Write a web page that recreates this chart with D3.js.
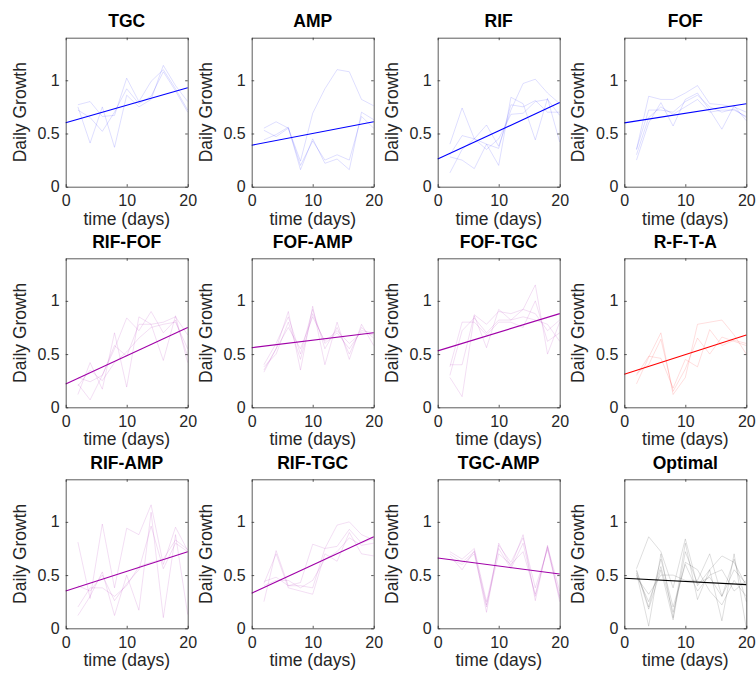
<!DOCTYPE html>
<html>
<head>
<meta charset="utf-8">
<script src="https://cdn.jsdelivr.net/npm/d3@7"></script>
<style>
  html, body { margin: 0; padding: 0; background: #fff; }
  svg { display: block; font-family: "Liberation Sans", Arial, Helvetica, sans-serif; }
</style>
</head>
<body>
<svg id="chart" width="756" height="673"></svg>
<script>
// Sampling days of the replicate growth measurements
const days = [2, 4, 6, 8, 10, 12, 14, 16, 18, 20];

// Treatment names, in panel order (row by row)
const treatments = ["TGC", "AMP", "RIF", "FOF",
                    "RIF-FOF", "FOF-AMP", "FOF-TGC", "R-F-T-A",
                    "RIF-AMP", "RIF-TGC", "TGC-AMP", "Optimal"];

// Line colour for each treatment
const treatmentColors = ["#0000ff", "#0000ff", "#0000ff", "#0000ff",
                         "#a000a8", "#a000a8", "#a000a8", "#ff0000",
                         "#a000a8", "#a000a8", "#a000a8", "#000000"];

// Linear fit of daily growth vs time: value at day 0 and at day 20
const fitStart = [0.60, 0.39, 0.26, 0.60, 0.22, 0.56, 0.53, 0.31, 0.35, 0.33, 0.66, 0.47];
const fitEnd   = [0.93, 0.61, 0.79, 0.78, 0.75, 0.70, 0.88, 0.68, 0.72, 0.86, 0.51, 0.41];

// Replicate daily growth series (one row per replicate, one value per sampling day)
const tgcReps = [
  [0.77, 0.80, 0.66, 0.67, 1.02, 0.80, 0.99, 1.10, 0.92, 0.72],
  [0.75, 0.41, 0.75, 0.37, 0.86, 0.75, 0.82, 1.14, 0.95, 0.80],
  [0.72, 0.65, 0.52, 0.70, 0.92, 0.78, 0.85, 1.08, 0.90, 0.70]
];
const ampReps = [
  [0.55, 0.61, 0.55, 0.24, 0.69, 0.92, 1.10, 1.08, 0.82, 0.76],
  [0.44, 0.49, 0.56, 0.16, 0.45, 0.22, 0.26, 0.16, 0.70, 0.63],
  [0.53, 0.47, 0.55, 0.20, 0.43, 0.25, 0.30, 0.25, 0.66, 0.55]
];
const rifReps = [
  [0.40, 0.74, 0.45, 0.40, 0.20, 0.84, 0.78, 0.44, 0.83, 0.42],
  [0.13, 0.35, 0.45, 0.58, 0.38, 0.72, 0.97, 1.01, 0.88, 0.78],
  [0.30, 0.48, 0.45, 0.35, 0.45, 0.68, 0.69, 0.80, 0.82, 0.67],
  [0.28, 0.25, 0.17, 0.40, 0.36, 0.77, 0.75, 0.81, 0.70, 0.70]
];
const fofReps = [
  [0.25, 0.60, 0.79, 0.57, 0.82, 0.88, 0.72, 0.54, 0.76, 0.62],
  [0.35, 0.85, 0.82, 0.82, 0.88, 0.95, 0.78, 0.77, 0.75, 0.70],
  [0.35, 0.72, 0.72, 0.70, 0.80, 0.86, 0.75, 0.70, 0.73, 0.65],
  [0.30, 0.65, 0.75, 0.68, 0.75, 0.82, 0.70, 0.72, 0.72, 0.66]
];
const rifFofReps = [
  [0.12, 0.42, 0.17, 0.70, 0.19, 0.85, 0.78, 0.44, 0.86, 0.42],
  [0.22, 0.07, 0.30, 0.55, 0.84, 0.72, 0.90, 0.70, 0.82, 0.48],
  [0.28, 0.24, 0.30, 0.58, 0.48, 0.78, 0.78, 0.80, 0.85, 0.68],
  [0.20, 0.35, 0.25, 0.42, 0.52, 0.65, 0.75, 0.78, 0.80, 0.55]
];
const fofAmpReps = [
  [0.33, 0.55, 0.90, 0.35, 0.95, 0.40, 0.80, 0.45, 0.78, 0.58],
  [0.40, 0.60, 0.85, 0.50, 0.92, 0.55, 0.75, 0.50, 0.75, 0.65],
  [0.38, 0.50, 0.80, 0.45, 0.88, 0.60, 0.70, 0.55, 0.72, 0.70],
  [0.35, 0.55, 0.75, 0.55, 0.85, 0.62, 0.72, 0.60, 0.70, 0.68]
];
const fofTgcReps = [
  [0.28, 0.10, 0.86, 0.56, 0.92, 0.82, 0.92, 1.15, 0.50, 0.80],
  [0.38, 0.80, 0.80, 0.68, 0.80, 0.80, 0.75, 1.00, 0.62, 0.70],
  [0.40, 0.40, 0.87, 0.78, 0.90, 0.88, 0.92, 0.88, 0.72, 0.82],
  [0.30, 0.72, 0.84, 0.70, 0.82, 0.82, 0.85, 0.82, 0.78, 0.62]
];
const rftaReps = [
  [0.22, 0.47, 0.70, 0.12, 0.28, 0.78, 0.80, 0.82, 0.68, 0.50],
  [0.30, 0.48, 0.46, 0.18, 0.45, 0.38, 0.73, 0.58, 0.63, 0.60],
  [0.32, 0.40, 0.64, 0.15, 0.36, 0.65, 0.50, 0.66, 0.62, 0.58]
];
const rifAmpReps = [
  [0.81, 0.28, 0.98, 0.38, 0.94, 0.88, 1.16, 0.60, 0.95, 0.73],
  [0.12, 0.30, 0.53, 0.12, 0.50, 0.17, 1.09, 0.10, 0.88, 0.13],
  [0.40, 0.35, 0.50, 0.26, 0.42, 0.55, 0.96, 0.56, 0.80, 0.72],
  [0.20, 0.38, 0.38, 0.30, 0.40, 0.58, 0.62, 0.65, 0.83, 0.74]
];
const rifTgcReps = [
  [0.25, 0.73, 0.40, 0.43, 0.79, 0.75, 0.97, 1.00, 0.88, 0.83],
  [0.42, 0.70, 0.38, 0.35, 0.32, 0.70, 0.63, 0.90, 0.70, 0.68],
  [0.44, 0.48, 0.40, 0.40, 0.38, 0.75, 0.77, 0.93, 0.80, 0.85],
  [0.40, 0.45, 0.45, 0.38, 0.45, 0.65, 0.72, 0.85, 0.78, 0.80]
];
const tgcAmpReps = [
  [0.70, 0.62, 0.72, 0.15, 0.80, 0.58, 0.88, 0.26, 0.78, 0.25],
  [0.68, 0.55, 0.73, 0.22, 0.70, 0.60, 0.72, 0.32, 0.76, 0.30],
  [0.65, 0.60, 0.70, 0.20, 0.78, 0.62, 0.85, 0.38, 0.74, 0.28],
  [0.72, 0.65, 0.75, 0.25, 0.75, 0.56, 0.80, 0.30, 0.77, 0.35]
];
const optimalReps = [
  [0.56, 0.86, 0.72, 0.38, 0.84, 0.40, 0.55, 0.68, 0.62, 0.40],
  [0.52, 0.02, 0.70, 0.10, 0.80, 0.27, 0.55, 0.07, 0.70, 0.00],
  [0.50, 0.25, 0.58, 0.15, 0.62, 0.55, 0.35, 0.22, 0.45, 0.30],
  [0.54, 0.18, 0.55, 0.08, 0.72, 0.42, 0.48, 0.30, 0.65, 0.25],
  [0.48, 0.32, 0.50, 0.50, 0.45, 0.45, 0.70, 0.30, 0.55, 0.42],
  [0.55, 0.20, 0.65, 0.20, 0.60, 0.35, 0.50, 0.55, 0.35, 0.45]
];
const replicates = [tgcReps, ampReps, rifReps, fofReps,
                    rifFofReps, fofAmpReps, fofTgcReps, rftaReps,
                    rifAmpReps, rifTgcReps, tgcAmpReps, optimalReps];

// Axis ticks
const xTicks = [0, 10, 20];
const yTicks = [0, 0.5, 1];

// Grid geometry
const colLeft = [65.7, 251.7, 437.7, 624.3];
const rowTop = [37.7, 258.3, 479.3];
const plotW = 122, plotH = 149;
const tickLen = 2.5;
const axisColor = "#262626";

const svg = d3.select("#chart");

const x = d3.scaleLinear().domain([0, 20]).range([0, plotW]);
const y = d3.scaleLinear().domain([0, 1.4]).range([plotH, 0]);
const line = d3.line().x((d, i) => x(days[i])).y(d => y(d));

treatments.forEach((name, k) => {
  const row = Math.floor(k / 4), col = k % 4;
  const g = svg.append("g")
    .attr("transform", `translate(${colLeft[col]},${rowTop[row]})`);
  const color = treatmentColors[k];

  // faint replicate trajectories
  g.append("g").selectAll("path")
    .data(replicates[k])
    .join("path")
    .attr("d", line)
    .attr("fill", "none")
    .attr("stroke", color)
    .attr("stroke-opacity", 0.13)
    .attr("stroke-width", 1);

  // fitted trend
  g.append("line")
    .attr("x1", x(0)).attr("y1", y(fitStart[k]))
    .attr("x2", x(20)).attr("y2", y(fitEnd[k]))
    .attr("stroke", color)
    .attr("stroke-width", 1.1);

  // axes with inward ticks, MATLAB-style box
  const xAxis = g.append("g")
    .attr("transform", `translate(0,${plotH})`)
    .call(d3.axisBottom(x).tickValues(xTicks).tickSizeInner(-tickLen).tickSizeOuter(0).tickPadding(8));
  const yAxis = g.append("g")
    .call(d3.axisLeft(y).tickValues(yTicks).tickFormat(d3.format("~g")).tickSizeInner(-tickLen).tickSizeOuter(0).tickPadding(6));
  const xTop = g.append("g")
    .call(d3.axisTop(x).tickValues(xTicks).tickSizeInner(-tickLen).tickSizeOuter(0).tickFormat(""));
  const yRight = g.append("g")
    .attr("transform", `translate(${plotW},0)`)
    .call(d3.axisRight(y).tickValues(yTicks).tickSizeInner(-tickLen).tickSizeOuter(0).tickFormat(""));

  [xAxis, yAxis, xTop, yRight].forEach(a => {
    a.selectAll("path, line").attr("stroke", axisColor).attr("stroke-width", 0.75);
    a.selectAll("text").attr("fill", axisColor).attr("font-size", 16)
      .attr("font-family", "'Liberation Sans', Arial, sans-serif");
  });

  // title
  g.append("text")
    .attr("x", plotW / 2).attr("y", -10.4)
    .attr("text-anchor", "middle")
    .attr("font-size", 17.5).attr("font-weight", "bold")
    .attr("fill", "#000")
    .text(name);

  // axis labels
  g.append("text")
    .attr("x", plotW / 2).attr("y", plotH + 38)
    .attr("text-anchor", "middle")
    .attr("font-size", 17.5).attr("fill", axisColor)
    .text("time (days)");
  g.append("text")
    .attr("transform", `translate(-40,${plotH / 2}) rotate(-90)`)
    .attr("text-anchor", "middle")
    .attr("font-size", 17.5).attr("fill", axisColor)
    .text("Daily Growth");
});
</script>
</body>
</html>
